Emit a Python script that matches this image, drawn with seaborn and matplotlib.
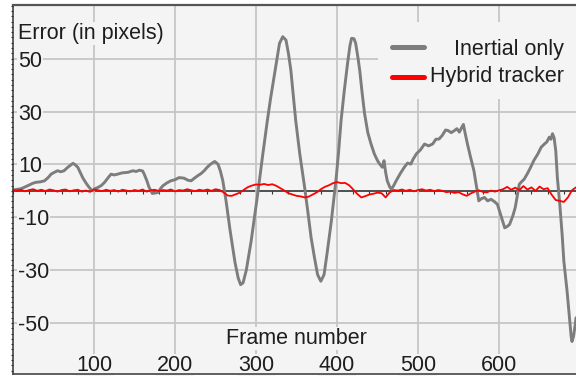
import matplotlib
matplotlib.use("Agg")
import matplotlib.pyplot as plt
import seaborn as sns
import pandas as pd
from matplotlib.ticker import MultipleLocator
from matplotlib.patches import Rectangle
from matplotlib.lines import Line2D

# ---------------- data ----------------
inertial_frames = [
    0, 10, 18, 24, 28, 34, 39, 44, 47, 51, 55, 59, 63, 68, 74, 77, 80, 86, 90, 94,
    98, 101, 105, 109, 113, 117, 121, 125, 129, 135, 142, 148, 152, 156, 160, 162, 165, 168, 172, 176,
    179, 182, 185, 190, 195, 200, 205, 211, 216, 220, 224, 228, 232, 236, 240, 244, 249, 253, 256, 259,
    263, 268, 274, 278, 281, 284, 288, 294, 298, 302, 308, 314, 318, 323, 326, 329, 333, 337, 340, 343,
    346, 349, 354, 360, 364, 368, 372, 376, 380, 384, 388, 393, 399, 402, 405, 409, 413, 416, 418, 421,
    423, 426, 428, 431, 434, 438, 442, 446, 450, 453, 456, 458, 460, 462, 465, 467, 470, 473, 478, 483,
    487, 491, 494, 498, 503, 508, 513, 518, 522, 526, 530, 534, 537, 541, 545, 548, 551, 554, 556, 558,
    561, 565, 569, 572, 575, 578, 582, 586, 590, 594, 598, 602, 607, 610, 613, 617, 620, 623, 625, 628,
    631, 635, 639, 643, 648, 652, 656, 659, 662, 664, 666, 668, 670, 672, 675, 678, 680, 684, 687, 689,
    690, 692, 694, 695,
]
inertial_error = [
    0.3, 0.8, 1.9, 2.8, 3.2, 3.4, 3.8, 5.2, 6.3, 7.0, 7.6, 7.2, 7.6, 9.0, 10.4, 9.8, 8.9, 5.0, 3.0, 1.3,
    0.0, 0.8, 1.3, 2.0, 3.2, 4.8, 6.3, 6.0, 6.3, 6.8, 7.0, 7.6, 7.3, 7.8, 7.5, 6.3, 4.0, 1.3, -1.0, -0.8,
    -0.6, 0.8, 1.9, 3.0, 3.8, 4.2, 5.0, 4.8, 4.0, 3.8, 4.8, 5.7, 6.5, 7.6, 9.0, 10.1, 11.1, 10.1, 7.5, 3.8,
    -3.8, -15.0, -27.0, -33.0, -35.5, -34.8, -30.0, -19.0, -10.0, -1.3, 13.0, 26.6, 35.0, 44.4, 50.0, 55.8, 58.3, 57.0, 52.0, 45.6,
    36.0, 26.6, 14.0, 1.3, -8.0, -17.7, -25.0, -31.7, -34.2, -31.7, -23.0, -11.4, 5.0, 15.0, 26.6, 38.0, 48.2, 55.0, 57.7, 57.5,
    55.8, 50.0, 45.6, 37.0, 29.2, 22.0, 17.7, 14.0, 11.4, 10.0, 8.9, 11.4, 7.0, 3.8, 1.5, 0.6, 2.0, 3.8, 6.5, 8.9,
    10.5, 10.1, 12.0, 14.0, 15.5, 17.7, 17.0, 17.7, 19.5, 19.6, 21.0, 23.0, 22.8, 22.0, 22.8, 23.5, 22.2, 24.0, 25.1, 22.0,
    17.7, 12.5, 7.6, 2.0, -3.8, -3.0, -2.5, -3.8, -3.2, -4.0, -5.1, -9.0, -14.0, -13.5, -12.7, -9.5, -6.3, -1.0, 2.5, 3.5,
    4.4, 6.5, 8.9, 11.5, 14.0, 16.5, 17.7, 18.5, 20.3, 19.5, 21.6, 20.0, 15.2, 5.0, -5.1, -17.0, -26.6, -38.0, -48.2, -55.0,
    -57.0, -55.0, -50.7, -48.0,
]
hybrid_frames = list(range(0, 700, 5))
hybrid_error = [
    0.3, 0.1, 0.4, -0.2, 0.3, 0.6, 0.0, 0.4, -0.1, 0.5,
    0.2, -0.3, 0.3, 0.5, -0.2, 0.2, 0.4, -0.3, 0.1, -0.4,
    0.5, 0.2, -0.1, 0.4, 0.0, 0.3, -0.3, 0.4, 0.1, -0.2,
    0.3, 0.0, 0.5, -0.3, 0.2, 0.4, -0.1, 0.3, 0.1, 0.5,
    -0.2, 0.3, 0.1, 0.6, 0.2, -0.1, 0.4, 0.1, 0.5, 0.0,
    0.6, 0.3, -0.6, -1.8, -1.9, -1.3, -0.7, 0.4, 1.4, 2.0,
    2.4, 2.3, 2.6, 2.2, 2.5, 1.9, 1.0, 0.1, -0.9, -1.4,
    -1.9, -2.1, -2.5, -2.2, -1.4, -0.6, 0.6, 1.5, 2.1, 2.9,
    3.3, 2.9, 3.0, 2.1, 0.5, -1.2, -2.5, -2.0, -1.4, -1.1,
    -0.7, -0.9, -2.5, -0.6, 0.3, 0.1, 0.5, 0.0, 0.4, -0.2,
    0.3, 0.6, 0.1, 0.4, -0.1, 0.3, 0.0, -0.5, -0.3, -0.8,
    -0.5, -1.3, -1.9, -1.0, -0.3, 0.2, -0.4, -0.6, 0.1, -0.3,
    0.2, 0.6, 1.5, 0.4, 1.2, 0.2, 1.8, 0.5, 1.3, 0.0,
    1.6, 0.6, 1.0, -1.5, -3.5, -3.8, -4.2, -2.5, 0.2, 1.3,
]
series_labels = ["Inertial only", "Hybrid tracker"]
x_ticks = [100, 200, 300, 400, 500, 600]
y_ticks = [50, 30, 10, -10, -30, -50]
x_label = "Frame number"
y_label = "Error (in pixels)"

# ---------------- style ----------------
sns.set_theme(style="white")
plt.rcParams["font.family"] = ["Liberation Sans", "DejaVu Sans"]
plt.rcParams["axes.unicode_minus"] = False

BG = "#f4f4f4"
GRID = "#c6c6c6"
TXT = "#1e1e1e"
GRAY = "#7d7d7d"
RED = "#ff0000"
FS = 15.5
XLIM = (0, 695)
YLIM = (-69.4, 70.4)

fig = plt.figure(figsize=(5.76, 3.76), dpi=100)
fig.patch.set_facecolor("white")
ax = fig.add_axes([13 / 576, 1.7 / 376, 563 / 576, 369.6 / 376])
ax.set_facecolor(BG)

df_i = pd.DataFrame({"frame": inertial_frames, "error": inertial_error})
df_h = pd.DataFrame({"frame": hybrid_frames, "error": hybrid_error})
sns.lineplot(data=df_i, x="frame", y="error", color=GRAY, linewidth=2.1, ax=ax, zorder=2.2)
sns.lineplot(data=df_h, x="frame", y="error", color=RED, linewidth=1.3, ax=ax, zorder=2.4)

ax.set_xlim(*XLIM)
ax.set_ylim(*YLIM)

# grid
ax.set_xticks(x_ticks)
ax.set_yticks(y_ticks)
ax.grid(True, which="major", color=GRID, linewidth=1.3)
ax.set_axisbelow(True)

# zero line with small ticks
y0 = (0 - YLIM[0]) / (YLIM[1] - YLIM[0])
sec = ax.secondary_xaxis(y0)
sec.set_xticks([])
sec.xaxis.set_minor_locator(MultipleLocator(20))
sec.tick_params(which="minor", direction="out", length=1.8, width=0.8, color="#333333")
sec.spines["bottom"].set_color("#333333")
sec.spines["bottom"].set_linewidth(1.2)

# spines
ax.spines["right"].set_visible(False)
ax.spines["top"].set_color("#555555")
ax.spines["top"].set_linewidth(1.6)
ax.spines["left"].set_color("#333333")
ax.spines["left"].set_linewidth(1.1)
ax.spines["bottom"].set_color("#444444")
ax.spines["bottom"].set_linewidth(1.2)

# y ticks: labels inside
ax.yaxis.set_minor_locator(MultipleLocator(2))
ax.tick_params(axis="y", which="major", direction="out", length=1.8, width=0.8,
               color="#333333", pad=-5.4, labelsize=FS, labelcolor=TXT, left=True)
ax.tick_params(axis="y", which="minor", direction="out", length=1.8, width=0.8,
               color="#333333", left=True)
for lab in ax.get_yticklabels():
    lab.set_horizontalalignment("left")
    lab.set_bbox(dict(facecolor=BG, edgecolor="none", pad=0.8))

# x ticks: labels inside bottom
ax.tick_params(axis="x", which="major", length=0, pad=-2.4, labelsize=FS, labelcolor=TXT)
for lab in ax.get_xticklabels():
    lab.set_verticalalignment("baseline")
    lab.set_bbox(dict(facecolor=BG, edgecolor="none", pad=1.0))

# axis labels inside the plot
ax.set_xlabel(x_label, fontsize=FS, color=TXT, va="baseline",
              bbox=dict(facecolor=BG, edgecolor="none", pad=1.0))
ax.xaxis.set_label_coords(0.504, 0.082)
ax.set_ylabel(y_label, fontsize=FS, color=TXT, rotation=0, ha="left", va="baseline",
              bbox=dict(facecolor=BG, edgecolor="none", pad=1.0))
ax.yaxis.set_label_coords(0.0089, 0.907)

# legend (handles left, labels right-aligned)
ax.add_patch(Rectangle((0.648, 0.745), 0.36, 0.208, transform=ax.transAxes,
                       facecolor=BG, edgecolor="none", zorder=3))
for i, (lab, col) in enumerate(zip(series_labels, [GRAY, RED])):
    yh = [0.8856, 0.8044][i]
    yt = [0.864, 0.791][i]
    ax.add_line(Line2D([0.673, 0.730], [yh, yh], transform=ax.transAxes,
                       color=col, linewidth=3.6, solid_capstyle="round", zorder=4))
    ax.text(0.9787, yt, lab, transform=ax.transAxes, ha="right", va="baseline",
            fontsize=FS, color=TXT, zorder=4)

fig.savefig("out.png", dpi=100, facecolor="white")
